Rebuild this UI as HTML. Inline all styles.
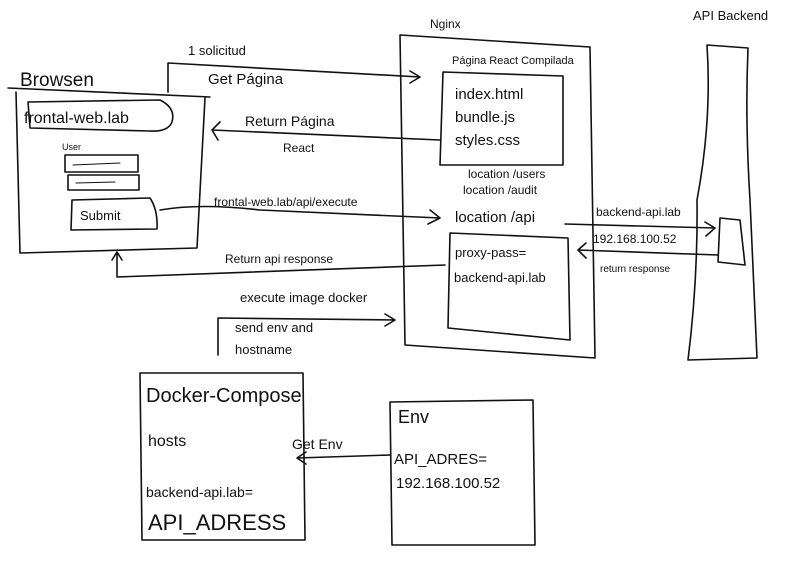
<!DOCTYPE html>
<html><head><meta charset="utf-8"><style>
html,body{margin:0;padding:0;background:#fff;}
svg{display:block}
text{font-family:"Liberation Sans",sans-serif;fill:#111;}
</style></head><body>
<svg width="800" height="567" viewBox="0 0 800 567" xmlns="http://www.w3.org/2000/svg">
<g fill="none" stroke="#111" stroke-width="1.6" stroke-linecap="round" stroke-linejoin="round">
<path d="M8 88 L210 97"/>
<path d="M16 92 L20 253 L197 248 L205 98"/>
<path d="M28 102 L160 100 Q176 108 172 122 Q168 132 150 131 L30 128 Z"/>
<rect x="65" y="155" width="73" height="17"/>
<rect x="68" y="175" width="71" height="15"/>
<path d="M73 165 L120 163 M76 183 L115 182" stroke-width="1"/>
<path d="M72 200 L150 198 Q158 210 157 229 L71 230 Z"/>
<path d="M168 92 L168 63 L420 77 M410 71 L420 77 L410 83"/>
<path d="M440 140 L212 130 M220 122 L212 130 L218 140"/>
<path d="M160 210 Q200 203 260 210 L440 218 M430 210 L440 218 L428 224"/>
<path d="M445 265 L117 277 L117 252 M112 260 L117 252 L122 260"/>
<path d="M400 35 L590 47 L595 358 L405 345 Z"/>
<path d="M443 72 L563 76 L563 165 L440 165 L443 72 Z"/>
<path d="M450 233 L568 238 L570 340 L448 328 Z"/>
<path d="M565 224 L715 228 M705 222 L715 228 L706 236"/>
<path d="M718 255 L578 250 M586 243 L578 250 L586 258"/>
<path d="M707 45 L748 48 Q745 120 750 200 L757 358 L688 360 Q698 280 697 200 Q712 120 707 45 Z"/>
<path d="M720 218 L740 220 L745 265 L718 262 Z"/>
<path d="M218 355 L218 318 L395 320 M385 314 L395 320 L385 326"/>
<path d="M140 373 L303 373 L305 540 L142 540 Z"/>
<path d="M390 402 L533 400 L535 545 L392 545 Z"/>
<path d="M390 455 L297 458 M306 452 L297 458 L306 464"/>
</g>
<text x="20" y="86" font-size="19">Browsen</text>
<text x="24" y="123" font-size="16">frontal-web.lab</text>
<text x="62" y="150" font-size="9">User</text>
<text x="80" y="220" font-size="13">Submit</text>
<text x="188" y="55" font-size="13">1 solicitud</text>
<text x="208" y="84" font-size="15">Get Página</text>
<text x="245" y="126" font-size="14">Return Página</text>
<text x="283" y="152" font-size="12">React</text>
<text x="214" y="206" font-size="12">frontal-web.lab/api/execute</text>
<text x="225" y="263" font-size="12">Return api response</text>
<text x="240" y="302" font-size="13">execute image docker</text>
<text x="235" y="332" font-size="13">send env and</text>
<text x="235" y="354" font-size="13">hostname</text>
<text x="430" y="28" font-size="12">Nginx</text>
<text x="452" y="64" font-size="11">Página React Compilada</text>
<text x="455" y="99" font-size="15">index.html</text>
<text x="455" y="122" font-size="15">bundle.js</text>
<text x="455" y="145" font-size="15">styles.css</text>
<text x="468" y="178" font-size="12">location /users</text>
<text x="463" y="194" font-size="12">location /audit</text>
<text x="455" y="222" font-size="15">location /api</text>
<text x="455" y="257" font-size="13">proxy-pass=</text>
<text x="454" y="282" font-size="13">backend-api.lab</text>
<text x="596" y="216" font-size="12">backend-api.lab</text>
<text x="593" y="243" font-size="12">192.168.100.52</text>
<text x="600" y="272" font-size="10">return response</text>
<text x="693" y="20" font-size="13">API Backend</text>
<text x="146" y="402" font-size="20">Docker-Compose</text>
<text x="148" y="446" font-size="16">hosts</text>
<text x="146" y="497" font-size="14">backend-api.lab=</text>
<text x="148" y="530" font-size="22">API_ADRESS</text>
<text x="398" y="423" font-size="18">Env</text>
<text x="292" y="449" font-size="14">Get Env</text>
<text x="394" y="464" font-size="15">API_ADRES=</text>
<text x="396" y="488" font-size="15">192.168.100.52</text>
</svg>
</body></html>
